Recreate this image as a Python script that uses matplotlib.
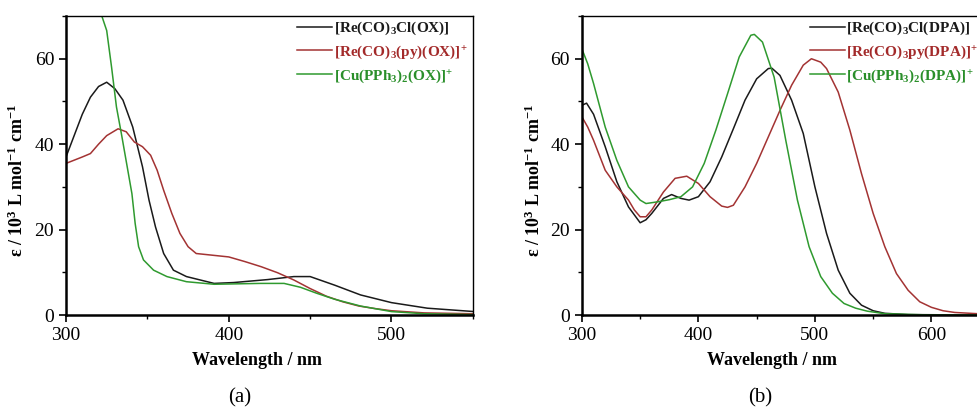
import numpy as np
import matplotlib
matplotlib.use('Agg')
import matplotlib.pyplot as plt
from matplotlib.ticker import MultipleLocator

plt.rcParams['font.family'] = 'serif'
plt.rcParams['font.serif'] = ['Liberation Serif', 'DejaVu Serif']
plt.rcParams['mathtext.fontset'] = 'custom'
plt.rcParams['mathtext.rm'] = 'Liberation Serif'
plt.rcParams['mathtext.bf'] = 'Liberation Serif:bold'
plt.rcParams['mathtext.it'] = 'Liberation Serif:italic'

# ---- (a) OX complexes ----
wl_a_cl = [300, 305, 310, 315, 320, 325, 330, 335, 341, 347, 351, 355, 360, 366, 374,
           391, 403, 424, 440, 450, 465, 481, 500, 522, 551]
eps_a_cl = [37, 42, 47, 51, 53.5, 54.5, 53, 50.3, 44, 34.7, 26.9, 20.6, 14.4, 10.5, 9,
            7.4, 7.6, 8.3, 9, 9, 7, 4.7, 2.9, 1.6, 0.8]

wl_a_py = [300, 310, 315, 320, 325, 332, 337, 342, 347, 352, 356, 360, 365, 370, 375,
           380, 390, 400, 410, 420, 430, 440, 450, 460, 470, 480, 490, 500, 520, 550]
eps_a_py = [35.5, 37, 37.8, 40, 42, 43.6, 42.9, 40.5, 39.4, 37.4, 33.9, 29.2, 23.8, 19.1, 16,
            14.4, 14, 13.6, 12.5, 11.3, 9.9, 8.2, 6.2, 4.4, 3.1, 2.1, 1.5, 1.0, 0.5, 0.3]

wl_a_cu = [300, 310, 315, 320, 322, 325, 328, 331, 334, 337, 340.5, 342.5, 344.6, 347.6,
           353.8, 362, 374, 391, 419.5, 434, 444, 454, 465, 481, 500, 520, 550]
eps_a_cu = [100, 90, 80, 73, 70, 66.6, 58, 48.7, 42.5, 36, 28.4, 21.4, 16, 12.9,
            10.5, 9, 7.8, 7.2, 7.4, 7.4, 6.5, 5.1, 3.7, 2.1, 0.8, 0.3, 0.1]

# ---- (b) DPA complexes ----
wl_b_cl = [300, 304, 310, 320, 330, 340, 350, 355, 360, 370, 377, 385, 392, 400, 410,
           420, 430, 440, 450, 460, 463, 470, 480, 490, 500, 510, 520, 530, 540, 550,
           560, 580, 640]
eps_b_cl = [49.1, 49.6, 47, 39.4, 31.2, 25.3, 21.6, 22.3, 23.8, 27.3, 28.2, 27.3, 26.9, 27.7, 31.2,
            37, 43.6, 50.3, 55.3, 57.7, 57.8, 56.1, 50.3, 42.5, 30, 19.1, 10.5, 5.1, 2.3, 1.0,
            0.4, 0.1, 0]

wl_b_py = [300, 305, 310, 320, 330, 340, 345, 350, 355, 360, 370, 380, 390, 400, 410,
           420, 425, 430, 440, 450, 460, 470, 480, 490, 497, 505, 510, 520, 530, 540,
           550, 560, 570, 580, 590, 600, 610, 620, 640]
eps_b_py = [46.4, 44, 40.9, 33.9, 30, 26.9, 24.6, 23, 23, 24.6, 28.8, 32, 32.5, 30.8, 27.7,
            25.5, 25.2, 25.7, 30, 35.5, 41.7, 47.9, 53.8, 58.5, 60, 59.2, 57.7, 52.2, 43.3, 33.1,
            23.8, 16, 9.7, 5.8, 3.1, 1.8, 1.0, 0.6, 0.3]

wl_b_cu = [300, 305, 310, 320, 330, 340, 350, 355, 365, 375, 385, 395, 405, 415, 425,
           435, 445, 448, 455, 465, 475, 485, 495, 505, 515, 525, 535, 545, 560, 600, 640]
eps_b_cu = [62.3, 58.8, 54.2, 44, 36.2, 30, 26.9, 26.1, 26.5, 27, 27.7, 30, 35.5, 43.3, 51.8,
            60.4, 65.5, 65.7, 63.9, 55.7, 40.9, 26.9, 16, 9, 5.1, 2.7, 1.6, 0.9, 0.3, 0, 0]

labels_a = [r'[Re(CO)$_{\mathbf{3}}$Cl(OX)]',
            r'[Re(CO)$_{\mathbf{3}}$(py)(OX)]$^{\mathbf{+}}$',
            r'[Cu(PPh$_{\mathbf{3}}$)$_{\mathbf{2}}$(OX)]$^{\mathbf{+}}$']
labels_b = [r'[Re(CO)$_{\mathbf{3}}$Cl(DPA)]',
            r'[Re(CO)$_{\mathbf{3}}$py(DPA)]$^{\mathbf{+}}$',
            r'[Cu(PPh$_{\mathbf{3}}$)$_{\mathbf{2}}$(DPA)]$^{\mathbf{+}}$']

LINE_COLORS = ['#1a1a1a', '#a33333', '#2f9a2f']
TEXT_COLORS = ['#1a1a1a', '#a32a2a', '#2a8f2a']

fig = plt.figure(figsize=(9.78, 4.12), dpi=100)
ax_a = fig.add_axes([0.0675, 0.2354, 0.416, 0.7257])
ax_b = fig.add_axes([0.595, 0.2354, 0.405, 0.7257])

panels = [
    (ax_a, [(wl_a_cl, eps_a_cl), (wl_a_py, eps_a_py), (wl_a_cu, eps_a_cu)], labels_a,
     (300, 550), [300, 400, 500], 0.545, 0.47, 0.428, '(a)'),
    (ax_b, [(wl_b_cl, eps_b_cl), (wl_b_py, eps_b_py), (wl_b_cu, eps_b_cu)], labels_b,
     (300, 640), [300, 400, 500, 600], 0.552, 0.48, 0.45, '(b)'),
]

for ax, series, labels, xlim, xticks, leg_x, xlab_x, tag_x, tag in panels:
    for (wl, eps), lab, c in zip(series, labels, LINE_COLORS):
        ax.plot(wl, eps, color=c, lw=1.1, label=lab)
    ax.set_xlim(*xlim)
    ax.set_ylim(0, 70)
    ax.set_xticks(xticks)
    ax.set_yticks([0, 20, 40, 60])
    ax.xaxis.set_minor_locator(MultipleLocator(50))
    ax.yaxis.set_minor_locator(MultipleLocator(10))
    ax.tick_params(which='major', direction='out', length=5, width=1.2, labelsize=14)
    ax.tick_params(which='minor', direction='out', length=3, width=1.0)
    for side in ['left', 'bottom']:
        ax.spines[side].set_linewidth(1.8)
    for side in ['top', 'right']:
        ax.spines[side].set_linewidth(1.0)
    ax.set_xlabel('Wavelength / nm', fontsize=13, fontweight='bold', labelpad=8)
    ax.xaxis.set_label_coords(xlab_x, -0.125)
    ax.set_ylabel(r'ε / 10$^{\mathbf{3}}$ L mol$^{\mathbf{-1}}$ cm$^{\mathbf{-1}}$',
                  fontsize=13, fontweight='bold')
    ax.yaxis.set_label_coords(-0.095, 0.45)
    leg = ax.legend(loc='upper left', bbox_to_anchor=(leg_x, 1.018), frameon=False,
                    prop={'weight': 'bold', 'size': 11}, handlelength=2.3,
                    handletextpad=0.1, labelspacing=0.42, borderaxespad=0.2)
    for txt, c in zip(leg.get_texts(), TEXT_COLORS):
        txt.set_color(c)
    ax.text(tag_x, -0.245, tag, transform=ax.transAxes, ha='center', va='top', fontsize=15)

fig.savefig('out.png', dpi=100)
